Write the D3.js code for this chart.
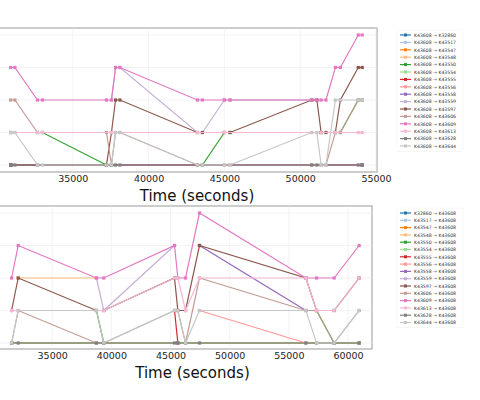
<!DOCTYPE html>
<html><head><meta charset="utf-8">
<script src="https://cdn.jsdelivr.net/npm/d3@7"></script>
<style>body{margin:0;background:#fff}svg{font-family:"DejaVu Sans",sans-serif}</style>
</head><body><svg id="c" width="480" height="400"></svg>
<script>
const colors=["#1f77b4","#aec7e8","#ff7f0e","#ffbb78","#2ca02c","#98df8a","#d62728","#ff9896","#9467bd","#c5b0d5","#8c564b","#c49c94","#e377c2","#f7b6d2","#7f7f7f","#c7c7c7"];
const nodes=["K32860","K43517","K43547","K43548","K43550","K43554","K43555","K43556","K43558","K43559","K43597","K43606","K43609","K43613","K43628","K43644"];
const xTicksTop=[35000,40000,45000,50000,55000];
const xTicksBot=[35000,40000,45000,50000,55000,60000];
// top panel: outgoing K43608 -> X ; [time, count]; null = gap
const topData=[
 [[30900,0],[54090,0]],
 [[30900,0],[54090,0]],
 [[30900,0],[54090,0]],
 [[30900,0],[54090,0]],
 [[30900,1],[32670,1],[33000,1],[37220,0],[37550,0],[43220,0],[43550,0],[45000,1],[45370,1],[51380,1],[52320,1],[52650,1],[53830,2],[54090,2]],
 [[30900,0],[54090,0]],
 [[30900,0],[54090,0]],
 [[30900,0],[54090,0]],
 [[30900,0],[54090,0]],
 [[37550,2],[37820,3],[38110,3],[43220,1],[43550,1],[45000,2],[45370,2],[50760,2],[51100,2]],
 [[30900,0],[37220,0],[37550,1],[37820,2],[38110,2],[43220,1],[43550,1],[45000,1],[45370,1],[50760,2],[51100,2],[51380,1],[51700,1],[52320,1],[52650,2],[53830,3],[54090,3]],
 [[30900,2],[31180,2],[32670,1],[33000,1],[37220,1],[37550,0],[37820,1],[38110,1],[43220,0],[43550,0],[45000,0],[45370,0],[50760,0],[51380,0],[51700,0],[52320,1],[52650,1],[53830,2],[54090,2]],
 [[30900,3],[31180,3],[32670,2],[33000,2],[37220,2],[37550,2],[37820,3],[38110,3],[43220,2],[43550,2],[45000,2],[45370,2],[50760,2],[51100,2],[51380,2],[51700,2],[52320,3],[52650,3],[53830,4],[54090,4]],
 [[30900,1],[31180,1],[32670,1],[33000,1],[37550,1],[43220,1],[45000,1],[50760,1],[51380,1],[52320,1],[53830,1],[54090,1]],
 [[30900,0],[31180,0],[32670,0],[37220,0],[37550,0],[37820,0],[38110,0],[50760,0],[51100,0],[53830,0],[54090,0]],
 [[30900,1],[31180,1],[32670,0],[33000,0],[37220,0],[37550,0],[37820,1],[38110,1],[43220,0],[43550,0],[45000,0],[45370,0],[50760,1],[51100,1],[51380,0],[51700,0],[52320,2],[52650,2],[53830,2],[54090,2]]
];
// bottom panel: incoming X -> K43608
const botData=[
 [[31570,0],[60940,0]],
 [[31570,0],[60940,0]],
 [[31570,0],[60940,0]],
 [[32130,2],[38740,2]],
 [[38740,1],[39360,0],null,[57340,1],[58830,0]],
 [[31570,0],[60940,0]],
 [[45340,1],[45620,0]],
 [[47450,1],[56440,0]],
 [[47450,3],[56440,1]],
 [[38740,2],[39360,1],[45340,3]],
 [[31570,1],[32130,2],[38740,1],[39360,1],[45340,2],[45620,1],[46270,1],[47450,3],[56440,2],[57340,1],[58830,1],[60940,2]],
 [[31570,0],[32130,1],[38740,0],[39360,0],[45340,1],[45620,1],[46270,0],[47450,2],[56440,1],[57340,1],[58830,0],[60940,1]],
 [[31570,2],[32130,3],[38740,2],[39360,2],[45340,3],[45620,2],[46270,2],[47450,4],[56440,2],[57340,2],[58830,2],[60940,3]],
 [[31570,1],[38740,1],[39360,1],[45340,2],[45620,2],[46270,1],[47450,2],[56440,2],[57340,1],[58830,1],[60940,2]],
 [[31570,0],[32130,0],[38740,0],[39360,0],[45340,0],[45620,0],[46270,0],[47450,0],[56440,0],[57340,0],[58830,0],[60940,0]],
 [[31570,0],[32130,1],[38740,1],[39360,0],[45340,1],[45620,1],[46270,0],[47450,1],[56440,1],[57340,0],[58830,0],[60940,1]]
];
const svg=d3.select("#c");
function panel(data,labels,ticks,xd,xr,top,bottom,right,yr,legTop,legStep){
  const x=d3.scaleLinear().domain(xd).range(xr);
  const y=d3.scaleLinear().domain([0,4]).range(yr);
  const g=svg.append("g");
  g.append("rect").attr("x",-20).attr("y",top).attr("width",right+20).attr("height",bottom-top).attr("fill","#fff").attr("stroke","#999").attr("stroke-width",1);
  ticks.forEach(t=>g.append("line").attr("x1",x(t)).attr("x2",x(t)).attr("y1",top).attr("y2",bottom).attr("stroke","#ebebeb").attr("stroke-width",0.6));
  [0,1,2,3,4].forEach(v=>g.append("line").attr("x1",0).attr("x2",right).attr("y1",y(v)).attr("y2",y(v)).attr("stroke","#ebebeb").attr("stroke-width",0.6));
  const line=d3.line().defined(d=>d!==null).x(d=>x(d[0])).y(d=>y(d[1]));
  data.forEach((pts,i)=>{
    g.append("path").attr("d",line(pts)).attr("fill","none").attr("stroke",colors[i]).attr("stroke-width",1.2);
    g.selectAll(null).data(pts.filter(d=>d)).enter().append("rect").attr("x",d=>x(d[0])-1.6).attr("y",d=>y(d[1])-1.6).attr("width",3.2).attr("height",3.2).attr("fill",colors[i]);
  });
  const ax=g.append("g").attr("transform",`translate(0,${bottom})`).call(d3.axisBottom(x).tickValues(ticks).tickSize(0).tickPadding(3).tickFormat(d3.format("d")));
  ax.select(".domain").remove();
  ax.selectAll("text").attr("font-size",9.5).attr("fill","#222").attr("font-family","DejaVu Sans");
  g.append("text").attr("x",(xr[0]+right)/2+10).attr("y",bottom+29).attr("text-anchor","middle").attr("font-size",15).attr("fill","#111").text("Time (seconds)");
  const lg=g.append("g");
  lg.append("rect").attr("x",397).attr("y",legTop-5).attr("width",66).attr("height",legStep*16+3).attr("fill","#fff").attr("stroke","#eee").attr("stroke-width",0.5);
  labels.forEach((l,i)=>{
    const yy=legTop+i*legStep;
    lg.append("line").attr("x1",400).attr("x2",411).attr("y1",yy).attr("y2",yy).attr("stroke",colors[i]).attr("stroke-width",1.2);
    lg.append("rect").attr("x",404).attr("y",yy-1.5).attr("width",3).attr("height",3).attr("fill",colors[i]);
    lg.append("text").attr("x",414).attr("y",yy+1.7).attr("font-size",4.6).attr("fill","#333").text(l);
  });
}
panel(topData,nodes.map(n=>"K43608 \u2192 "+n),xTicksTop,[30000,55000],[-3,376],28,172,377,[165,35],35,7.4);
panel(botData,nodes.map(n=>n+" \u2192 K43608"),xTicksBot,[30000,60000],[-7,348],206,349,372,[343,213],213,7.3);
</script></body></html>
